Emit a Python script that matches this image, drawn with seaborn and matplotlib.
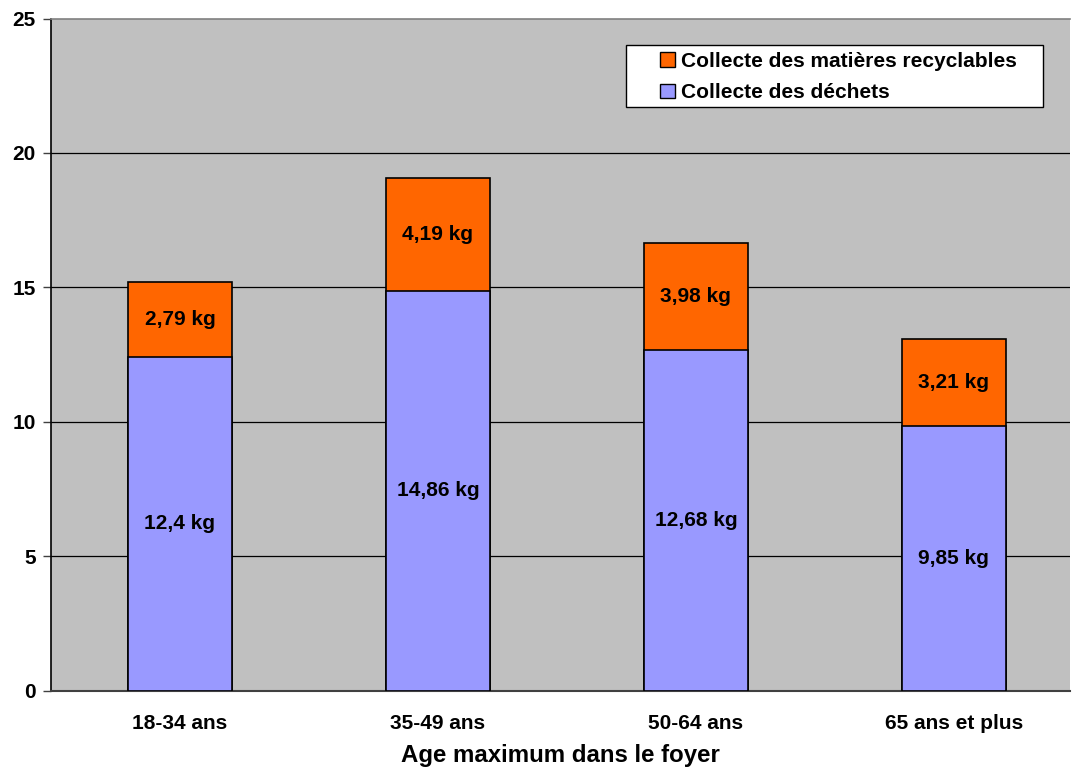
import matplotlib
matplotlib.use("Agg")
import matplotlib.pyplot as plt
import seaborn as sns
import pandas as pd
from matplotlib.patches import Patch, Rectangle

categories = ["18-34 ans", "35-49 ans", "50-64 ans", "65 ans et plus"]
dechets = [12.4, 14.86, 12.68, 9.85]
recyclables = [2.79, 4.19, 3.98, 3.21]
dechets_labels = ["12,4 kg", "14,86 kg", "12,68 kg", "9,85 kg"]
recyclables_labels = ["2,79 kg", "4,19 kg", "3,98 kg", "3,21 kg"]
yticks = [0, 5, 10, 15, 20, 25]

sns.set_theme(style="white")
plt.rcParams["font.family"] = ["Liberation Sans", "DejaVu Sans"]
plt.rcParams["font.weight"] = "bold"
plt.rcParams["text.color"] = "black"
plt.rcParams["axes.labelcolor"] = "black"
plt.rcParams["xtick.color"] = "black"
plt.rcParams["ytick.color"] = "black"

df = pd.DataFrame({"cat": categories, "dechets": dechets, "rec": recyclables})
df["total"] = df["dechets"] + df["rec"]

W, H = 1072, 772
fig = plt.figure(figsize=(W / 100, H / 100), dpi=100)
ax = fig.add_axes([51 / W, 1 - 690.5 / H, (1070 - 51) / W, (690.5 - 18.5) / H])
ax.set_facecolor("#C0C0C0")

for v in yticks[1:-1]:
    ax.axhline(v, color="black", lw=0.9, zorder=0)

sns.barplot(data=df, x="cat", y="total", color="#FF6600", saturation=1,
            width=0.40, edgecolor="black", linewidth=1.2, ax=ax, zorder=2)
sns.barplot(data=df, x="cat", y="dechets", color="#9999FF", saturation=1,
            width=0.40, edgecolor="black", linewidth=1.2, ax=ax, zorder=3)

for i in range(len(categories)):
    ax.text(i, dechets[i] / 2, dechets_labels[i], ha="center", va="center",
            fontsize=15, fontweight="bold", color="black", zorder=4)
    ax.text(i, dechets[i] + recyclables[i] / 2, recyclables_labels[i],
            ha="center", va="center", fontsize=15, fontweight="bold",
            color="black", zorder=4)

ax.set_xlim(-0.5, 3.45)
ax.set_ylim(0, 25)
ax.set_yticks(yticks)
ax.set_yticklabels([str(t) for t in yticks], fontsize=15, fontweight="bold")
ax.set_xticks(range(len(categories)))
ax.set_xticklabels(categories, fontsize=15, fontweight="bold")
ax.set_xticks([-0.5, 0.5, 1.5, 2.5], minor=True)
ax.tick_params(axis="x", which="major", length=0, pad=17)
ax.tick_params(axis="x", which="minor", length=6, width=1, color="#404040", direction="out")
ax.tick_params(axis="y", which="major", length=6, width=1, color="#404040",
               direction="out", pad=5, left=True)
ax.set_xlabel("Age maximum dans le foyer", fontsize=17.3, fontweight="bold", labelpad=8)
ax.set_ylabel("")

ax.spines["left"].set_color("black")
ax.spines["left"].set_linewidth(1.2)
ax.spines["bottom"].set_color("#404040")
ax.spines["bottom"].set_linewidth(1.5)
ax.spines["top"].set_color("#808080")
ax.spines["top"].set_linewidth(1.2)
ax.spines["right"].set_visible(False)

# legend frame
fig.patches.append(Rectangle((626 / W, 1 - 107 / H), (1043 - 626) / W, (107 - 45) / H,
                             transform=fig.transFigure, facecolor="white",
                             edgecolor="black", linewidth=1.0, zorder=5))
handles = [Patch(facecolor="#FF6600", edgecolor="black", label="Collecte des matières recyclables"),
           Patch(facecolor="#9999FF", edgecolor="black", label="Collecte des déchets")]
leg = fig.legend(handles=handles, loc="center left", bbox_to_anchor=(660 / W, 1 - 77 / H),
                 bbox_transform=fig.transFigure, frameon=False,
                 prop={"size": 15, "weight": "bold"}, handlelength=0.7, handleheight=0.7,
                 handletextpad=0.3, borderpad=0, labelspacing=0.6, borderaxespad=0)
leg.set_zorder(6)

fig.savefig("out.png", dpi=100)
